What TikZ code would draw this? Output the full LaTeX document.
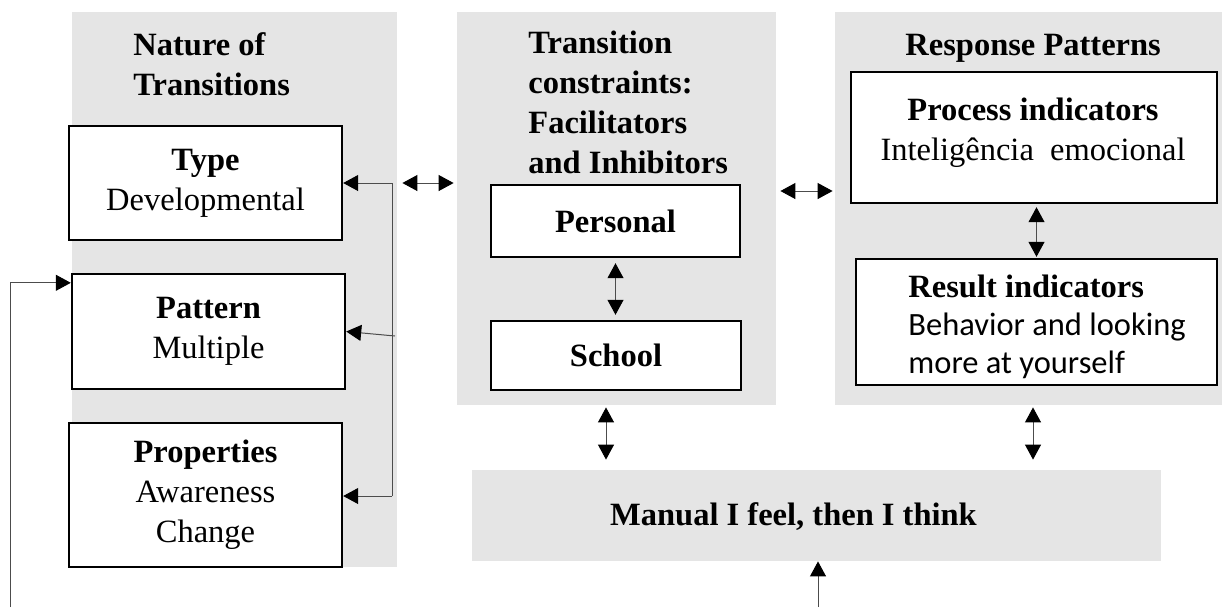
\documentclass[tikz,border=0pt]{standalone}
\usepackage{fontspec}
\setmainfont{Liberation Serif}
\newfontfamily\calibrifont{Carlito}
\usetikzlibrary{arrows.meta}

\begin{document}
\begin{tikzpicture}
  [x=0.5pt, y=-0.5pt, >={Triangle[length=7.5pt, width=8pt, color=black]}]
  \tikzstyle{gray_panel} = [fill=black!10, inner sep=0pt];
  \tikzstyle{white_box}  = [draw=black, fill=white, line width=1.2pt, align=center, inner sep=0pt,
                            font=\fontsize{16.25}{20}\selectfont];
  \tikzstyle{label_text} = [inner sep=0pt, font=\fontsize{16.25}{20}\selectfont];
  \tikzstyle{link}       = [draw=black!70, line width=0.5pt];

  \useasboundingbox (0, 0) rectangle (1224, 607);

  \node[gray_panel, minimum width=162.5pt, minimum height=277.5pt] (natpanel)  at (234.5, 289.5) {};
  \node[gray_panel, minimum width=159.5pt, minimum height=196.5pt] (conpanel)  at (616.5, 208.5) {};
  \node[gray_panel, minimum width=193.5pt, minimum height=196.5pt] (resppanel) at (1028.5, 208.5) {};
  \node[gray_panel, minimum width=344.5pt, minimum height=45.5pt]  (manual)    at (816.5, 515.5) {};

  \node[label_text, anchor=base west, align=left] (nattitle)  at (133, 95) {\bfseries Nature of\\\bfseries Transitions};
  \node[label_text, anchor=base west, align=left] (contitle)  at (528, 173)
    {\bfseries Transition\\\bfseries constraints:\\\bfseries Facilitators\\\bfseries and Inhibitors};
  \node[label_text, anchor=base west] (resptitle) at (905, 55) {\bfseries Response Patterns};

  \node[white_box, minimum width=136.5pt, minimum height=57pt]   (type)    at (205.5, 183)   {\textbf{Type}\\Developmental};
  \node[white_box, minimum width=136.5pt, minimum height=57.5pt] (pattern) at (208.5, 331.5) {\textbf{Pattern}\\Multiple};
  \node[white_box, minimum width=136.5pt, minimum height=72pt]   (props)   at (205.5, 495)   {\textbf{Properties}\\Awareness\\Change};

  \node[white_box, minimum width=124.5pt, minimum height=36pt]   (personal) at (615.5, 221)  {\textbf{Personal}};
  \node[white_box, minimum width=125pt, minimum height=34.5pt]   (school)   at (616, 355.5)  {\textbf{School}};

  \node[white_box, minimum width=183pt, minimum height=65.5pt]   (process) at (1034, 137.5)  {};
  \node[white_box, minimum width=180.5pt, minimum height=63pt]   (result)  at (1036.5, 322)  {};

  \node[label_text, anchor=base, align=center] (proctext) at (1033, 160)
    {\textbf{Process indicators}\\Inteligência\ \ emocional};
  \node[label_text, anchor=base west, align=left, font=\fontsize{16.25}{19}\selectfont] (restext) at (908, 373)
    {\textbf{Result indicators}\\{\calibrifont Behavior and looking}\\{\calibrifont more at yourself}};
  \node[label_text, anchor=base] (mantext) at (793.5, 525) {\bfseries Manual I feel, then I think};

  \draw[link, <->, shorten <=2.5pt, shorten >=1.5pt] (natpanel.east |- type.east) -- (conpanel.west |- type.east);
  \draw[link, <->, shorten <=2pt, shorten >=1pt] ([yshift=8.75pt]conpanel.east) -- ([yshift=8.75pt]resppanel.west);
  \draw[link, <->, shorten <=2.5pt, shorten >=2.5pt] (personal.south) -- (personal.south |- school.north);
  \draw[link, <->, shorten <=1.5pt, shorten >=0.5pt] (process.south -| result.north) -- (result.north);
  \draw[link, <->, shorten <=1pt, shorten >=5pt] ([xshift=-5.25pt]conpanel.south) -- ([xshift=-5.25pt]conpanel.south |- manual.north);
  \draw[link, <->, shorten <=1pt, shorten >=5pt] ([xshift=2.25pt]resppanel.south) -- ([xshift=2.25pt]resppanel.south |- manual.north);

  \coordinate (brtop) at (392, 183);
  \coordinate (brmid) at (395, 336);
  \coordinate (brbot) at (392, 496);
  \draw[link] (brtop) -- (brbot);
  \draw[link, ->] (brtop) -- (type.east);
  \draw[link, ->] (brmid) -- (pattern.east);
  \draw[link, ->] (brbot) -- (brbot -| props.east);

  \coordinate (loopleft)  at (10, 607);
  \coordinate (loopright) at (818, 607);
  \draw[link, ->] (loopleft) |- ([yshift=-5pt]pattern.north west);
  \draw[link, ->] (loopright) -- (loopright |- manual.south);

\end{tikzpicture}
\end{document}
